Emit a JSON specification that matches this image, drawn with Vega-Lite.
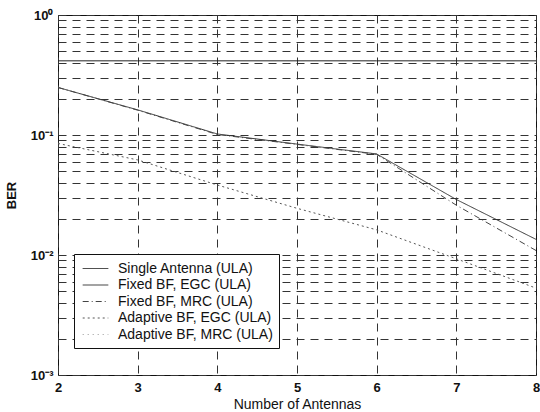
{
  "$schema": "https://vega.github.io/schema/vega-lite/v6.json",
  "width": 478,
  "height": 360,
  "autosize": "none",
  "padding": {"left": 58, "top": 15, "right": 4, "bottom": 37},
  "background": "white",
  "config": {"view": {"stroke": "#111", "strokeWidth": 1}, "font": "Liberation Sans"},
  "data": {"values": [
    {"antennas": 2, "ber": 0.415, "series": "Single Antenna (ULA)"},
    {"antennas": 3, "ber": 0.415, "series": "Single Antenna (ULA)"},
    {"antennas": 4, "ber": 0.415, "series": "Single Antenna (ULA)"},
    {"antennas": 5, "ber": 0.415, "series": "Single Antenna (ULA)"},
    {"antennas": 6, "ber": 0.415, "series": "Single Antenna (ULA)"},
    {"antennas": 7, "ber": 0.415, "series": "Single Antenna (ULA)"},
    {"antennas": 8, "ber": 0.415, "series": "Single Antenna (ULA)"},
    {"antennas": 2, "ber": 0.249, "series": "Fixed BF, EGC (ULA)"},
    {"antennas": 3, "ber": 0.162, "series": "Fixed BF, EGC (ULA)"},
    {"antennas": 4, "ber": 0.102, "series": "Fixed BF, EGC (ULA)"},
    {"antennas": 5, "ber": 0.084, "series": "Fixed BF, EGC (ULA)"},
    {"antennas": 6, "ber": 0.0695, "series": "Fixed BF, EGC (ULA)"},
    {"antennas": 7, "ber": 0.029, "series": "Fixed BF, EGC (ULA)"},
    {"antennas": 8, "ber": 0.0135, "series": "Fixed BF, EGC (ULA)"},
    {"antennas": 2, "ber": 0.249, "series": "Fixed BF, MRC (ULA)"},
    {"antennas": 3, "ber": 0.161, "series": "Fixed BF, MRC (ULA)"},
    {"antennas": 4, "ber": 0.101, "series": "Fixed BF, MRC (ULA)"},
    {"antennas": 5, "ber": 0.0835, "series": "Fixed BF, MRC (ULA)"},
    {"antennas": 6, "ber": 0.069, "series": "Fixed BF, MRC (ULA)"},
    {"antennas": 7, "ber": 0.026, "series": "Fixed BF, MRC (ULA)"},
    {"antennas": 8, "ber": 0.0109, "series": "Fixed BF, MRC (ULA)"},
    {"antennas": 2, "ber": 0.085, "series": "Adaptive BF, EGC (ULA)"},
    {"antennas": 3, "ber": 0.062, "series": "Adaptive BF, EGC (ULA)"},
    {"antennas": 4, "ber": 0.0383, "series": "Adaptive BF, EGC (ULA)"},
    {"antennas": 5, "ber": 0.0245, "series": "Adaptive BF, EGC (ULA)"},
    {"antennas": 6, "ber": 0.0162, "series": "Adaptive BF, EGC (ULA)"},
    {"antennas": 7, "ber": 0.0093, "series": "Adaptive BF, EGC (ULA)"},
    {"antennas": 8, "ber": 0.0053, "series": "Adaptive BF, EGC (ULA)"}
  ]},
  "mark": {"type": "line", "strokeWidth": 1, "clip": true},
  "encoding": {
    "x": {
      "field": "antennas", "type": "quantitative",
      "scale": {"domain": [2, 8], "nice": false, "zero": false},
      "axis": {
        "values": [2, 3, 4, 5, 6, 7, 8], "title": "Number of Antennas",
        "grid": true, "gridDash": [8, 6], "gridColor": "#333", "gridOpacity": 1, "gridWidth": 1,
        "domain": false, "ticks": false, "labelFlush": false, "labelOverlap": false,
        "labelFontSize": 13, "labelFontWeight": "bold", "labelColor": "#111", "labelPadding": 6,
        "titleFontSize": 14, "titleFontWeight": "normal", "titleColor": "#111", "titlePadding": 3
      }
    },
    "y": {
      "field": "ber", "type": "quantitative",
      "scale": {"type": "log", "domain": [0.001, 1], "nice": false},
      "axis": {
        "values": [0.001, 0.002, 0.003, 0.004, 0.005, 0.006, 0.007, 0.008, 0.009, 0.01, 0.02, 0.03, 0.04, 0.05, 0.06, 0.07, 0.08, 0.09, 0.1, 0.2, 0.3, 0.4, 0.5, 0.6, 0.7, 0.8, 0.9, 1],
        "labelExpr": "datum.value == 1 ? '10⁰' : datum.value == 0.1 ? '10⁻¹' : datum.value == 0.01 ? '10⁻²' : datum.value == 0.001 ? '10⁻³' : ''",
        "title": "BER", "titleX": -40,
        "grid": true, "gridDash": [8, 6], "gridColor": "#333", "gridOpacity": 1, "gridWidth": 1,
        "domain": false, "ticks": false, "labelFlush": false, "labelOverlap": false,
        "labelFontSize": 13, "labelFontWeight": "bold", "labelColor": "#111", "labelPadding": 5,
        "titleFontSize": 13, "titleFontWeight": "bold", "titleColor": "#111"
      }
    },
    "color": {
      "field": "series", "type": "nominal",
      "scale": {
        "domain": ["Single Antenna (ULA)", "Fixed BF, EGC (ULA)", "Fixed BF, MRC (ULA)", "Adaptive BF, EGC (ULA)", "Adaptive BF, MRC (ULA)"],
        "range": ["#222222", "#333333", "#444444", "#555555", "#999999"]
      },
      "legend": {
        "orient": "none", "legendX": 16, "legendY": 239, "title": null,
        "symbolType": "M-1.6,0H1.6", "symbolSize": 256, "symbolStrokeWidth": 1, "symbolOffset": 7,
        "labelFontSize": 14, "labelColor": "#111", "labelOffset": 14, "labelLimit": 300,
        "fillColor": "white", "strokeColor": "#111", "padding": 6, "rowPadding": 0.5
      }
    },
    "strokeDash": {
      "field": "series", "type": "nominal",
      "scale": {
        "domain": ["Single Antenna (ULA)", "Fixed BF, EGC (ULA)", "Fixed BF, MRC (ULA)", "Adaptive BF, EGC (ULA)", "Adaptive BF, MRC (ULA)"],
        "range": [[1, 0], [1, 0], [6, 3, 1, 3], [2, 3], [1, 4]]
      }
    }
  }
}
